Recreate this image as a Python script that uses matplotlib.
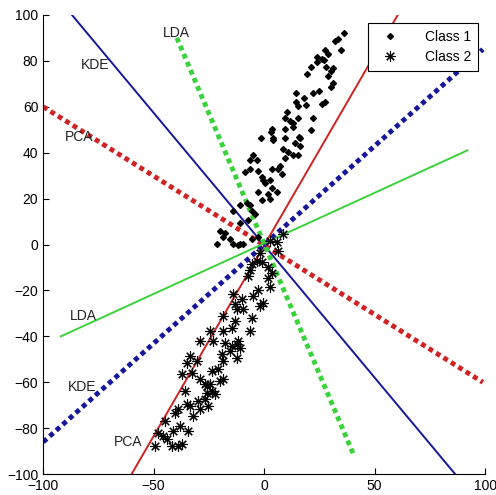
import numpy as np
import matplotlib
matplotlib.use('Agg')
import matplotlib.pyplot as plt

plt.rcParams['font.family'] = ['Liberation Sans', 'DejaVu Sans']

# Class 1 (upper cloud)
c1_x = [36.2, 32.1, 33.5, 34.8, 27.6, 29.0, 24.0, 26.2, 24.0, 27.1, 21.3, 28.1, 31.2, 30.3,
        19.5, 29.0, 31.2, 30.3, 24.9, 22.2, 14.5, 18.1, 27.6, 26.2, 14.5, 15.4, 19.0, 10.4,
        9.5, 11.8, 15.4, 22.2, 13.1, 13.1, 3.6, 3.2, 9.5, 21.3, 15.8, -1.4, 4.1, 9.5, 4.1,
        16.3, 14.0, 16.3, 8.6, 10.9, 13.1, 15.4, -5.0, -6.3, -3.2, 9.5, 7.2, 3.6, 6.3, -8.6,
        -6.3, -2.7, 8.1, -0.9, -0.5, 2.7, 0.5, 3.6, 5.9, 1.8, -2.7, 2.7, -0.9, -7.7, -6.3,
        -10.9, -5.4, -4.1, -14.0, -7.2, -10.9, -19.9, -17.6, -18.6, -15.4, -14.0, -21.3,
        -10.9, -2.7, -11.8, -9.5, -5.4]
c1_y = [92.1, 88.6, 89.3, 84.5, 84.5, 82.8, 81.5, 80.6, 79.3, 80.2, 77.1, 77.1, 76.7, 75.4,
        74.1, 73.2, 70.2, 68.4, 66.7, 65.8, 65.8, 63.6, 61.9, 61.0, 61.9, 60.1, 60.6, 57.5,
        55.3, 54.0, 54.9, 55.3, 52.7, 51.0, 50.5, 48.8, 50.1, 49.7, 46.6, 46.2, 46.2, 46.2, 45.3,
        46.2, 44.0, 43.1, 41.8, 40.1, 38.8, 38.8, 38.8, 36.6, 37.0, 37.5, 34.4, 33.1, 33.1, 31.4,
        32.7, 32.2, 30.9, 29.2, 27.9, 27.9, 26.6, 24.4, 22.7, 22.2, 22.7, 20.0, 19.2, 17.9, 17.0,
        17.0, 14.8, 13.5, 14.8, 10.5, 9.2, 6.1, 5.2, 3.1, 2.6, 0.4, 0.4,
        0.4, 3.1, -0.4, 0.4, 2.6]

# Class 2 (lower cloud)
c2_x = [2.7, 5.9, 8.6, 6.3, -1.8, -3.2, -0.9, -5.4, 1.8, -6.3, 3.6, -7.2, 1.8, 2.7, -2.7,
        -5.0, -14.0, -10.0, -0.5, -13.1, -12.2, -9.5, -1.8, -18.6, -5.4, -13.1, -14.5, -6.3,
        -24.4, -18.6, -29.0, -23.1, -11.8, -17.6, -14.5, -10.9, -12.2, -15.4, -19.0, -12.2,
        -33.5, -34.8, -30.3, -18.6, -37.1, -23.5, -20.8, -19.9, -18.6, -29.0, -26.7, -24.4,
        -35.7, -25.8, -23.5, -22.2, -26.7, -29.9, -34.8, -33.5, -25.3, -38.9, -40.3, -32.1,
        -44.8, -38.0, -41.2, -34.4, -48.0, -45.7, -43.9, -49.3, -41.6, -38.9, -37.1, -32.6,
        -25.8, -29.0]
c2_y = [1.7, 0.9, 4.8, -2.6, -3.9, -7.0, -7.8, -8.3, -10.0, -11.3, -12.2, -13.5, -14.4, -18.7,
        -20.0, -22.2, -21.4, -23.5, -25.3, -25.7, -27.9, -27.9, -26.6, -30.9, -32.2, -33.1,
        -36.2, -37.5, -37.5, -37.5, -41.8, -41.8, -41.8, -42.7, -44.0, -44.9, -43.1, -46.2,
        -47.5, -49.2, -48.4, -51.4, -50.5, -50.5, -56.2, -54.9, -54.0, -59.3, -58.4, -58.4,
        -60.6, -60.6, -63.6, -64.5, -63.6, -64.9, -67.1, -68.0, -69.3, -70.2, -70.2, -71.5,
        -73.2, -74.5, -76.7, -78.9, -81.0, -81.0, -81.9, -83.2, -84.5, -87.6, -87.6, -87.6,
        -86.7, -55.8, -61.4, -71.5]

# projection directions: (x0, y0, x1, y1) end points
pca_main = [-60, -100, 60.5, 100]
pca_perp = [-100, 60, 99, -60]
kde_main = [-100, -86, 99, 85]
kde_perp = [-87, 100, 86.5, -100]
lda_main = [-92, -40, 92, 41]
lda_perp = [-39.5, 90, 40.5, -91.5]

labels = [('LDA', -46, 92), ('KDE', -83, 78), ('PCA', -90, 47),
          ('LDA', -88, -31), ('KDE', -89, -62), ('PCA', -68, -86)]

red = '#cf2222'
blue = '#16169a'
green = '#3ad23a'

fig = plt.figure(figsize=(4.96, 4.95), dpi=100)
ax = fig.add_axes([0.087, 0.042, 0.891, 0.928])


def draw(seg, color, dotted):
    if dotted:
        ax.plot(seg[0::2], seg[1::2], color=color, lw=3.5, dashes=(1, 0.8),
                solid_capstyle='butt', dash_capstyle='butt')
    else:
        ax.plot(seg[0::2], seg[1::2], color=color, lw=1.4)


draw(pca_main, red, False)
draw(pca_perp, red, True)
draw(kde_main, blue, True)
draw(kde_perp, blue, False)
draw(lda_main, green, False)
draw(lda_perp, green, True)

ax.plot(c1_x, c1_y, 'D', color='black', ms=3, label='Class 1', zorder=5)
ax.plot(c2_x, c2_y, color='black', ms=7.5, mew=0.8, label='Class 2', zorder=5,
        linestyle='none', marker=(8, 2, 0))

for txt, x, y in labels:
    ax.text(x, y, txt, fontsize=10, color='#222222', va='center', ha='left')

ax.set_xlim(-100, 100)
ax.set_ylim(-100, 100)
ax.set_xticks([-100, -50, 0, 50, 100])
ax.set_yticks(np.arange(-100, 101, 20))
ax.spines['top'].set_visible(False)
ax.spines['right'].set_visible(False)
ax.tick_params(direction='in', length=4, labelsize=10)

leg = ax.legend(loc='upper right', bbox_to_anchor=(0.984, 0.983), fontsize=10,
                fancybox=False, edgecolor='black', framealpha=1, borderpad=0.5,
                labelspacing=0.45, handletextpad=1.4, handlelength=2.2,
                borderaxespad=0)
leg.get_frame().set_linewidth(0.8)

plt.savefig('out.png', dpi=100)
plt.close()
